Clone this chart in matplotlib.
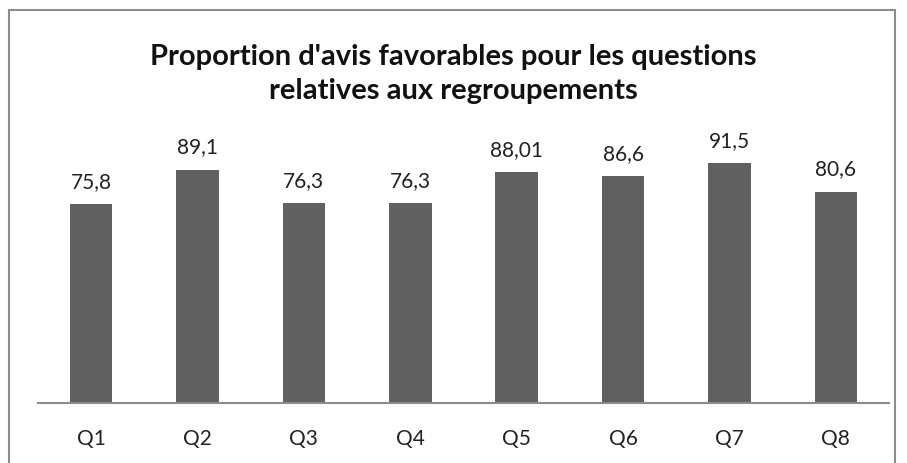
import matplotlib.pyplot as plt
from matplotlib.patches import Rectangle

categories = ["Q1", "Q2", "Q3", "Q4", "Q5", "Q6", "Q7", "Q8"]
values = [75.8, 89.1, 76.3, 76.3, 88.01, 86.6, 91.5, 80.6]
labels = ["75,8", "89,1", "76,3", "76,3", "88,01", "86,6", "91,5", "80,6"]

plt.rcParams['font.family'] = ['Lato', 'DejaVu Sans']

fig = plt.figure(figsize=(9.07, 4.63), dpi=100)
# cadre gris autour du graphique
fig.patches.append(Rectangle((9 / 907, -0.1), 886 / 907, 1 - 10 / 463 + 0.1,
                             transform=fig.transFigure, fill=False,
                             edgecolor="#8c8c8c", linewidth=1.5))

ax = fig.add_axes([38 / 907, 1 - 403 / 463, 851 / 907, 262 / 463])
x = range(len(categories))
ax.bar(x, values, width=0.4, color="#606060")
for i, (v, lab) in enumerate(zip(values, labels)):
    ax.annotate(lab, (i, v), xytext=(0, 9), textcoords="offset points",
                ha="center", va="bottom", fontsize=15, color="#222222")

ax.set_xlim(-0.5, len(categories) - 0.5)
ax.set_ylim(0, 100)
ax.set_xticks(list(x))
ax.set_xticklabels(categories, fontsize=15, color="#222222")
ax.tick_params(axis="x", length=0, pad=19)
ax.set_yticks([])
for s in ["top", "right", "left"]:
    ax.spines[s].set_visible(False)
ax.spines["bottom"].set_color("#8c8c8c")
ax.spines["bottom"].set_linewidth(1.5)

fig.text(0.5, 1 - 74 / 463, "Proportion d'avis favorables pour les questions\nrelatives aux regroupements",
         ha="center", va="center", fontsize=21, fontweight="bold",
         linespacing=1.42, color="#111111")

plt.savefig("out.png", dpi=100)
